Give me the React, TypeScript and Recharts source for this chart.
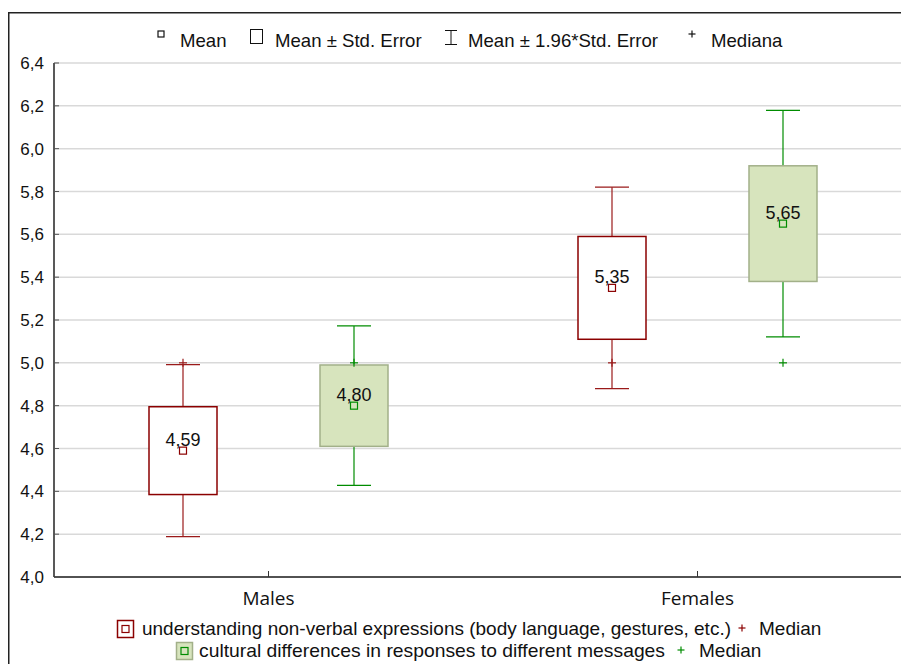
import {
  ComposedChart,
  Bar,
  XAxis,
  YAxis,
  CartesianGrid,
  ReferenceLine,
  Customized,
} from "recharts";

// group means, standard errors and medians per measure
const GROUPS = ["Males", "Females"];
const VERBAL_MEANS = [4.59, 5.35];
const VERBAL_SE = [0.205, 0.24];
const VERBAL_MEDIANS = [5.0, 5.0];
const CULTURAL_MEANS = [4.8, 5.65];
const CULTURAL_SE = [0.19, 0.27];
const CULTURAL_MEDIANS = [5.0, 5.0];
const Y_TICKS = [4.0, 4.2, 4.4, 4.6, 4.8, 5.0, 5.2, 5.4, 5.6, 5.8, 6.0, 6.2, 6.4];
const Z = 1.96;

const VERBAL_LABEL = "understanding non-verbal expressions (body language, gestures, etc.)";
const CULTURAL_LABEL = "cultural differences in responses to different messages";

const RED = "#8b0000";
const GREEN = "#008c00";
const GREEN_FILL = "#d7e4bd";
const GREEN_EDGE = "#a2b089";
const FONT = "'Liberation Sans', Arial, sans-serif";

const comma = (v: number, d: number) => v.toFixed(d).replace(".", ",");

const rows = GROUPS.map((name, i) => ({
  name,
  verbal: { mean: VERBAL_MEANS[i], se: VERBAL_SE[i], median: VERBAL_MEDIANS[i] },
  cultural: { mean: CULTURAL_MEANS[i], se: CULTURAL_SE[i], median: CULTURAL_MEDIANS[i] },
}));

type Stat = { mean: number; se: number; median: number };

interface BoxStyle {
  stroke: string;
  whisker: string;
  fill: string;
  marker: string;
}

// box = mean ± SE (the bar itself), whiskers = mean ± 1.96*SE, plus mean marker and median cross
const makeBoxShape = (key: "verbal" | "cultural", st: BoxStyle) => (props: any) => {
  const { x, y, width, height, payload } = props;
  const s: Stat = payload[key];
  const top = Math.min(y, y + height);
  const bottom = Math.max(y, y + height);
  const pxPerUnit = (bottom - top) / (2 * s.se);
  const hi = s.mean + s.se;
  const toY = (v: number) => top + (hi - v) * pxPerUnit;
  const cx = x + width / 2;
  const wTop = toY(s.mean + Z * s.se);
  const wBot = toY(s.mean - Z * s.se);
  const my = toY(s.mean);
  const md = toY(s.median);
  return (
    <g>
      <line x1={cx} x2={cx} y1={wTop} y2={wBot} stroke={st.whisker} strokeWidth={1.2} />
      <line x1={cx - 17} x2={cx + 17} y1={wTop} y2={wTop} stroke={st.whisker} strokeWidth={1.2} />
      <line x1={cx - 17} x2={cx + 17} y1={wBot} y2={wBot} stroke={st.whisker} strokeWidth={1.2} />
      <rect x={x} y={top} width={width} height={bottom - top} fill={st.fill} stroke={st.stroke} strokeWidth={1.5} />
      <line x1={cx - 4} x2={cx + 4} y1={md} y2={md} stroke={st.whisker} strokeWidth={1.2} />
      <line x1={cx} x2={cx} y1={md - 4} y2={md + 4} stroke={st.whisker} strokeWidth={1.2} />
      <rect x={cx - 3.5} y={my - 3.5} width={7} height={7} fill={st.fill} stroke={st.marker} strokeWidth={1.2} />
      <text x={cx} y={my - 5} textAnchor="middle" fontSize={18} fontFamily={FONT} fill="#111">
        {comma(s.mean, 2)}
      </text>
    </g>
  );
};

const XTick = (props: any) => {
  const { x, y, payload } = props;
  return (
    <text x={x} y={y + 32} textAnchor="middle" fontSize={19} fontFamily="'Open Sans', sans-serif" fill="#111">
      {payload.value}
    </text>
  );
};

const YTick = (props: any) => {
  const { x, y, payload } = props;
  return (
    <text x={x} y={y} dy={6} textAnchor="end" fontSize={17} fontFamily={FONT} fill="#111">
      {comma(payload.value, 1)}
    </text>
  );
};

const Plus = ({ x, y, color }: { x: number; y: number; color: string }) => (
  <g stroke={color} strokeWidth={1.2}>
    <line x1={x - 3.5} x2={x + 3.5} y1={y} y2={y} />
    <line x1={x} x2={x} y1={y - 3.5} y2={y + 3.5} />
  </g>
);

const Decorations = () => (
  <g fontFamily={FONT} fill="#111">
    {/* outer frame */}
    <path d="M0.75,664 V4.75 H910" fill="none" stroke="#222" strokeWidth={1.5} />

    {/* statistics key */}
    <rect x={150} y={23} width={6} height={6} fill="none" stroke="#111" strokeWidth={1.2} />
    <text x={172} y={39} fontSize={18.6}>Mean</text>
    <rect x={242.5} y={21.5} width={12} height={14} fill="none" stroke="#111" strokeWidth={1} />
    <text x={267} y={39} fontSize={18.6}>Mean ± Std. Error</text>
    <g stroke="#111" strokeWidth={1}>
      <line x1={437} x2={449} y1={22.5} y2={22.5} />
      <line x1={437} x2={449} y1={36.5} y2={36.5} />
      <line x1={443} x2={443} y1={22.5} y2={36.5} />
    </g>
    <text x={460} y={39} fontSize={18.6}>Mean ± 1.96*Std. Error</text>
    <Plus x={684} y={26} color="#111" />
    <text x={703} y={39} fontSize={18.6}>Mediana</text>

    {/* series key */}
    <rect x={109.5} y={612.5} width={16} height={17} fill="#fff" stroke={RED} strokeWidth={1.5} />
    <rect x={114} y={617.5} width={7} height={7} fill="#fff" stroke={RED} strokeWidth={1.2} />
    <text x={134} y={627} fontSize={19} textLength={589} lengthAdjust="spacingAndGlyphs">
      {VERBAL_LABEL}
    </text>
    <Plus x={734} y={620} color={RED} />
    <text x={751} y={627} fontSize={19}>Median</text>

    <rect x={168.5} y={634.5} width={16} height={17} fill={GREEN_FILL} stroke={GREEN_EDGE} strokeWidth={1.5} />
    <rect x={173} y={639.5} width={7} height={7} fill={GREEN_FILL} stroke={GREEN} strokeWidth={1.2} />
    <text x={191} y={649} fontSize={19} textLength={466} lengthAdjust="spacingAndGlyphs">
      {CULTURAL_LABEL}
    </text>
    <Plus x={673} y={642} color={GREEN} />
    <text x={691} y={649} fontSize={19}>Median</text>
  </g>
);

export default function App() {
  return (
    <div style={{ width: 901, height: 656, overflow: "hidden" }}>
      <ComposedChart
        width={904}
        height={656}
        data={rows}
        margin={{ top: 55, right: 0, bottom: 0, left: 0 }}
        barGap={103}
      >
        <CartesianGrid horizontal vertical={false} stroke="#d9d9d9" strokeWidth={1.5} />
        <XAxis
          dataKey="name"
          height={87}
          tickSize={-6}
          tickLine={{ stroke: "#333" }}
          axisLine={{ stroke: "#222", strokeWidth: 1.5 }}
          tick={<XTick />}
          interval={0}
        />
        <XAxis
          xAxisId="top"
          dataKey="name"
          orientation="top"
          height={0}
          mirror
          tick={false}
          tickSize={6}
          tickLine={{ stroke: "#333" }}
          axisLine={{ stroke: "#222", strokeWidth: 1.5 }}
        />
        <XAxis xAxisId="num" type="number" domain={[0, 2]} hide />
        <YAxis
          domain={[4, 6.4]}
          ticks={Y_TICKS}
          width={46}
          interval={0}
          tickSize={-5}
          tickMargin={15}
          tick={<YTick />}
          tickLine={{ stroke: "#555" }}
          axisLine={{ stroke: "#222", strokeWidth: 1.5 }}
        />
        <ReferenceLine xAxisId="num" x={1} stroke="#999" strokeDasharray="5 4" />
        <Bar
          dataKey={(r: any) => [r.verbal.mean - r.verbal.se, r.verbal.mean + r.verbal.se]}
          barSize={68}
          isAnimationActive={false}
          shape={makeBoxShape("verbal", { stroke: RED, whisker: "#9a1a1a", fill: "#fff", marker: RED })}
        />
        <Bar
          dataKey={(r: any) => [r.cultural.mean - r.cultural.se, r.cultural.mean + r.cultural.se]}
          barSize={68}
          isAnimationActive={false}
          shape={makeBoxShape("cultural", { stroke: GREEN_EDGE, whisker: GREEN, fill: GREEN_FILL, marker: GREEN })}
        />
        <Customized component={<Decorations />} />
      </ComposedChart>
    </div>
  );
}
